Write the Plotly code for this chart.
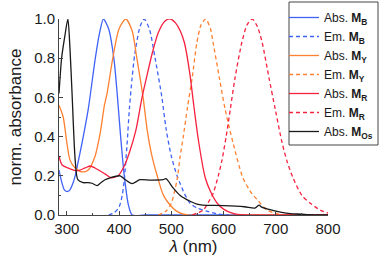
import plotly.graph_objects as go

# ---- data ----
wl_abs_B = [285, 290, 295, 300, 305, 310, 316, 320, 330, 341, 354, 362, 370, 380, 390, 397, 403, 410, 418, 425, 450, 550, 650, 800]
abs_B = [0.23, 0.17, 0.13, 0.12, 0.125, 0.15, 0.2, 0.25, 0.38, 0.54, 0.79, 0.92, 1.0, 0.95, 0.8, 0.6, 0.4, 0.2, 0.05, 0.0, 0.0, 0.0, 0.0, 0.0]

wl_em_B = [380, 390, 400, 406, 410, 415, 420, 425, 430, 440, 448, 458, 469, 482, 490, 500, 511, 517, 525, 536, 550, 568, 590, 610, 700, 800]
em_B = [0.0, 0.01, 0.04, 0.1, 0.18, 0.35, 0.55, 0.7, 0.82, 0.96, 1.0, 0.95, 0.8, 0.6, 0.44, 0.3, 0.2, 0.16, 0.11, 0.06, 0.035, 0.02, 0.005, 0.0, 0.0, 0.0]

wl_abs_Y = [285, 293, 300, 306, 316, 329, 341, 354, 364, 372, 377, 388, 400, 413, 425, 434, 446, 454, 463, 473, 485, 498, 510, 530, 650, 800]
abs_Y = [0.56, 0.5, 0.37, 0.28, 0.24, 0.22, 0.23, 0.3, 0.42, 0.56, 0.62, 0.8, 0.95, 1.0, 0.94, 0.8, 0.6, 0.43, 0.3, 0.2, 0.1, 0.05, 0.02, 0.0, 0.0, 0.0]

wl_em_Y = [475, 490, 500, 511, 517, 523, 531, 540, 549, 557, 566, 575, 580, 592, 603, 618, 637, 654, 664, 683, 705, 720, 800]
em_Y = [0.0, 0.02, 0.06, 0.18, 0.3, 0.4, 0.55, 0.7, 0.88, 0.97, 1.0, 0.95, 0.88, 0.7, 0.54, 0.37, 0.19, 0.11, 0.08, 0.025, 0.005, 0.0, 0.0]

wl_abs_R = [285, 291, 302, 319, 335, 345, 354, 373, 385, 398, 410, 420, 432, 444, 455, 463, 475, 488, 498, 508, 517, 525, 535, 543, 552, 565, 575, 588, 600, 618, 640, 720, 800]
abs_R = [0.3, 0.255, 0.24, 0.225, 0.24, 0.25, 0.24, 0.21, 0.19, 0.2, 0.25, 0.32, 0.43, 0.6, 0.73, 0.82, 0.93, 0.99, 1.0, 0.98, 0.94, 0.88, 0.73, 0.56, 0.38, 0.19, 0.12, 0.06, 0.03, 0.008, 0.0, 0.0, 0.0]

wl_em_R = [540, 561, 570, 580, 590, 597, 605, 613, 622, 635, 645, 655, 665, 674, 687, 699, 712, 722, 733, 750, 766, 785, 800]
em_R = [0.0, 0.025, 0.06, 0.11, 0.2, 0.28, 0.4, 0.54, 0.7, 0.88, 0.97, 1.0, 0.96, 0.88, 0.7, 0.54, 0.37, 0.27, 0.19, 0.1, 0.06, 0.025, 0.01]

wl_abs_Os = [285, 290, 296, 302, 306, 310, 316, 321, 331, 340, 348, 358, 365, 373, 383, 402, 412, 425, 440, 460, 484, 490, 503, 517, 536, 549, 560, 600, 640, 660, 668, 673, 685, 700, 720, 740, 760, 800]
abs_Os = [0.62, 0.8, 0.91, 1.0, 0.85, 0.62, 0.28, 0.18, 0.165, 0.165, 0.162, 0.15, 0.165, 0.18, 0.19, 0.2, 0.18, 0.16, 0.18, 0.178, 0.18, 0.185, 0.14, 0.1, 0.07, 0.055, 0.05, 0.048, 0.042, 0.035, 0.05, 0.04, 0.03, 0.02, 0.01, 0.005, 0.002, 0.0]

x_ticks = [300, 400, 500, 600, 700, 800]
y_ticks = [0.0, 0.2, 0.4, 0.6, 0.8, 1.0]

BLUE = "#3f62f7"
ORANGE = "#ff8030"
RED = "#f5213f"
BLACK = "#1a1a1a"

series = [
    (wl_abs_B, abs_B, "Abs. <b>M</b><sub><b>B</b></sub>", BLUE, "solid"),
    (wl_em_B, em_B, "Em. <b>M</b><sub><b>B</b></sub>", BLUE, "4px,3px"),
    (wl_abs_Y, abs_Y, "Abs. <b>M</b><sub><b>Y</b></sub>", ORANGE, "solid"),
    (wl_em_Y, em_Y, "Em. <b>M</b><sub><b>Y</b></sub>", ORANGE, "4px,3px"),
    (wl_abs_R, abs_R, "Abs. <b>M</b><sub><b>R</b></sub>", RED, "solid"),
    (wl_em_R, em_R, "Em. <b>M</b><sub><b>R</b></sub>", RED, "4px,3px"),
    (wl_abs_Os, abs_Os, "Abs. <b>M</b><sub><b>Os</b></sub>", BLACK, "solid"),
]

fig = go.Figure()
for x, y, name, color, dash in series:
    fig.add_trace(go.Scatter(
        x=x, y=y, name=name, mode="lines",
        line=dict(color=color, width=1.3, dash=dash, shape="spline", smoothing=0.7),
    ))

FONT = "Liberation Sans, Arial, sans-serif"
W, H = 381, 262
ML, MR, MT, MB = 59, 3, 2, 47
pw, ph = W - ML - MR, H - MT - MB


def px_x(p):
    return (p - ML) / pw


def px_y(p):
    return (H - MB - p) / ph


fig.add_shape(
    type="rect", xref="paper", yref="paper",
    x0=px_x(289), x1=px_x(378), y0=px_y(145), y1=px_y(2),
    line=dict(color="#444", width=1), fillcolor="rgba(0,0,0,0)", layer="above",
)

fig.update_layout(
    template="none",
    width=W, height=H,
    margin=dict(l=ML, r=MR, t=MT, b=MB, autoexpand=False),
    paper_bgcolor="white", plot_bgcolor="white",
    font=dict(family=FONT, size=15, color="#1a1a1a"),
    showlegend=True,
    legend=dict(
        x=px_x(284), y=px_y(3), xanchor="left", yanchor="top",
        bgcolor="rgba(0,0,0,0)", borderwidth=0,
        font=dict(family=FONT, size=12, color="#1a1a1a"),
        itemwidth=30, tracegroupgap=0,
    ),
    xaxis=dict(
        domain=[0, px_x(328)], automargin=False,
        range=[285, 800], tickvals=x_ticks, ticks="inside", ticklen=4,
        tickcolor="#444", showline=True, linecolor="#444", linewidth=1,
        showgrid=False, zeroline=False, mirror=False,
        minor=dict(dtick=50, ticks="inside", ticklen=2, tickcolor="#444", showgrid=False),
        title=dict(text="<i>λ</i> (nm)", font=dict(size=17), standoff=4),
        tickfont=dict(size=15),
    ),
    yaxis=dict(
        domain=[0, px_y(19)], automargin=False,
        range=[0, 1.0], tickvals=y_ticks, tickformat=".1f", ticks="inside", ticklen=4,
        tickcolor="#444", showline=True, linecolor="#444", linewidth=1,
        showgrid=False, zeroline=False, mirror=False,
        minor=dict(dtick=0.1, ticks="inside", ticklen=2, tickcolor="#444", showgrid=False),
        title=dict(text="norm. absorbance", font=dict(size=17), standoff=8),
        tickfont=dict(size=15),
    ),
)

fig.write_html(
    "out.html",
    config={"displayModeBar": False},
    post_script="document.body.style.margin='0';",
)
